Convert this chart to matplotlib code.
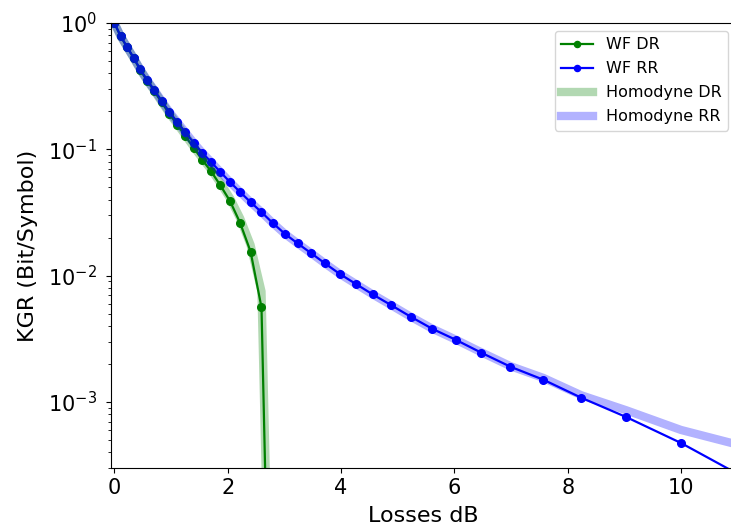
import matplotlib
matplotlib.use("Agg")
import matplotlib.pyplot as plt

# losses in dB (transmissivity steps of 0.025)
loss_db = [0.0, 0.110, 0.223, 0.339, 0.458, 0.580, 0.706, 0.835, 0.969, 1.107,
           1.249, 1.397, 1.549, 1.707, 1.871, 2.041, 2.218, 2.403, 2.596, 2.798,
           3.010, 3.233, 3.468, 3.716, 3.979, 4.260, 4.559, 4.881, 5.229, 5.607,
           6.021, 6.478, 6.990, 7.570, 8.239, 9.031, 10.0, 11.249]

# WF reverse reconciliation
wf_rr = [1.0, 0.788, 0.648, 0.531, 0.429, 0.353, 0.294, 0.242, 0.198, 0.165,
         0.137, 0.113, 0.0942, 0.0793, 0.0661, 0.0550, 0.0459, 0.0382, 0.0318, 0.0260,
         0.0214, 0.0180, 0.0151, 0.0125, 0.0103, 0.0086, 0.0071, 0.00585, 0.00473, 0.00380,
         0.00311, 0.00245, 0.00190, 0.00150, 0.00108, 0.00076, 0.000473, 0.000234]

# WF direct reconciliation (dies out before 3 dB)
wf_dr = [1.0, 0.785, 0.644, 0.527, 0.424, 0.347, 0.288, 0.235, 0.191, 0.157,
         0.128, 0.103, 0.0828, 0.0669, 0.0518, 0.0389, 0.0262, 0.0155, 0.0056, 5e-7]

# homodyne references
hom_dr = [1.0, 0.786, 0.645, 0.528, 0.426, 0.349, 0.290, 0.237, 0.193, 0.159,
          0.130, 0.105, 0.085, 0.069, 0.054, 0.041, 0.0285, 0.0175, 0.0075, 1e-6]

hom_rr = [1.0, 0.788, 0.648, 0.531, 0.429, 0.353, 0.294, 0.242, 0.198, 0.165,
          0.137, 0.113, 0.0942, 0.0793, 0.0661, 0.0550, 0.0459, 0.0382, 0.0318, 0.0260,
          0.0214, 0.0180, 0.0151, 0.0125, 0.0103, 0.0086, 0.0071, 0.00585, 0.00473, 0.00381,
          0.00312, 0.00247, 0.00192, 0.00155, 0.00113, 0.00086, 0.00060, 0.00043]

fig = plt.figure(figsize=(7.31, 5.32), dpi=100)
ax = fig.add_axes([111/731, 1 - 468/532, (736 - 111)/731, (468 - 23)/532])

ax.plot(loss_db[:len(wf_dr)], wf_dr, color='green', marker='o', markersize=5.5,
        linewidth=1.6, label='WF DR')
ax.plot(loss_db, wf_rr, color='blue', marker='o', markersize=5.5,
        linewidth=1.6, label='WF RR')
ax.plot(loss_db[:len(hom_dr)], hom_dr, color='green', alpha=0.3, linewidth=6,
        label='Homodyne DR')
ax.plot(loss_db, hom_rr, color='blue', alpha=0.3, linewidth=6,
        label='Homodyne RR')

ax.set_yscale('log')
ax.set_ylim(3e-4, 1)
ax.set_xlim(-0.06, 10.97)
ax.set_xticks([0, 2, 4, 6, 8, 10])
ax.tick_params(axis='both', labelsize=15)
ax.tick_params(axis='y', which='major', pad=6.6)
ax.set_xlabel('Losses dB', fontsize=16, labelpad=6)
ax.set_ylabel('KGR (Bit/Symbol)', fontsize=16, labelpad=7)
ax.legend(loc='upper right', fontsize=11.5, labelspacing=0.56, markerscale=0.8)

fig.savefig('out.png', dpi=100)
